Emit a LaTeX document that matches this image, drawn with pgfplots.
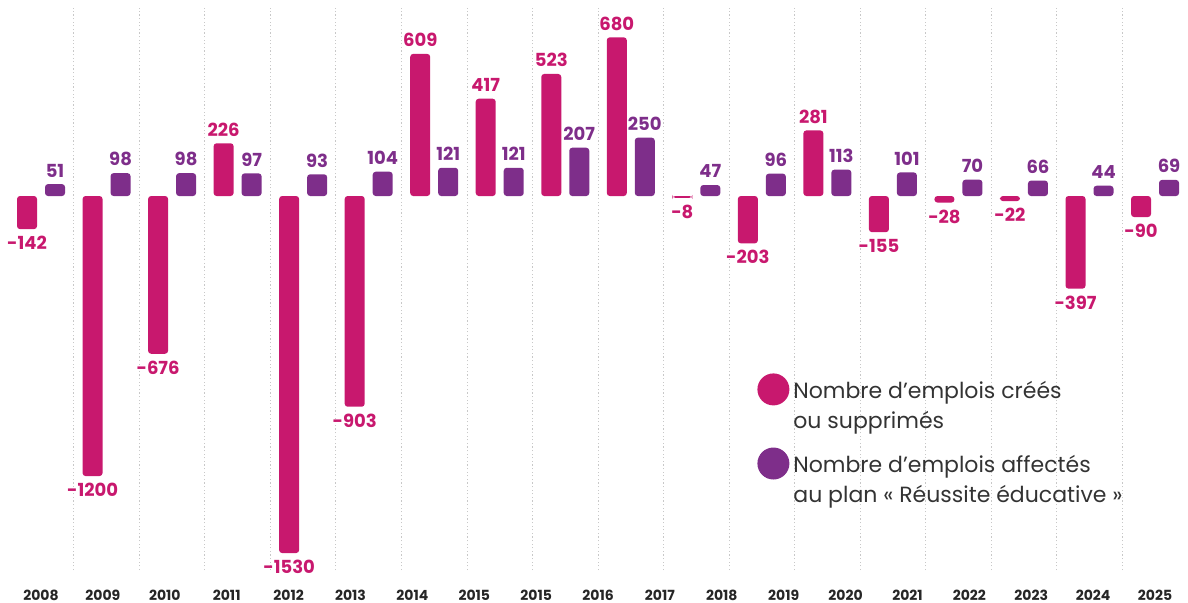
\documentclass[border=0pt]{standalone}
\usepackage{pgfplots}
\pgfplotsset{compat=1.18}
\usepackage{pgfplotstable}
\usepackage{fontspec}
\setmainfont{Poppins}
\definecolor{pinkc}{HTML}{C8186E}
\definecolor{purplec}{HTML}{7E2E8A}
\definecolor{txt}{HTML}{333333}
\definecolor{gridc}{HTML}{C8C8C8}

\pgfplotstableread{
x a b
0 -142 51
1 -1200 98
2 -676 98
3 226 97
4 -1530 93
5 -903 104
6 609 121
7 417 121
8 523 207
9 680 250
10 -8 47
11 -203 96
12 281 113
13 -155 101
14 -28 70
15 -22 66
16 -397 44
17 -90 69
}\data

\begin{document}
\begin{tikzpicture}
\begin{axis}[
  name=ax,
  scale only axis, width=594pt, height=301.5pt,
  xmin=-0.626, xmax=17.503, ymin=-1744, ymax=840,
  ybar=4pt, bar width=10pt,
  axis line style={draw=none}, tick style={draw=none},
  ytick=\empty,
  xtick={0,0.94444,1.88889,2.83333,3.77778,4.72222,5.66667,6.61111,7.55556,8.5,9.44444,10.38889,11.33333,12.27778,13.22222,14.16667,15.11111,16.05556,17},
  xticklabels={2008,2009,2010,2011,2012,2013,2014,2015,2015,2016,2017,2018,2019,2020,2021,2022,2023,2024,2025},
  xticklabel style={anchor=center, yshift=8pt, font=\fontsize{7}{8}\selectfont\bfseries, text=black!85},
  clip=false,
  nodes near coords,
  every node near coord/.append style={font=\fontsize{9}{10}\selectfont\bfseries},
  /pgf/number format/fixed, /pgf/number format/precision=0,
  /pgf/number format/1000 sep={}, /pgf/number format/assume math mode=true,
  legend style={at={(axis description cs:0.6372,0.3814)}, anchor=north west, draw=none, fill=none,
    font=\fontsize{11}{15}\selectfont, text=txt, cells={anchor=west, align=left}, row sep=6pt, inner sep=0pt},
  legend cell align=left,
  legend image code/.code={\fill (0pt,8.5pt) circle (8pt);},
]
\pgfplotsinvokeforeach{0.5,1.5,2.5,3.5,4.5,5.5,6.5,7.5,8.5,9.5,10.5,11.5,12.5,13.5,14.5,15.5,16.5}{
  \draw[gridc, line width=0.45pt, dash pattern=on 0.6pt off 1.2pt] (axis cs:#1,-1603) -- (axis cs:#1,806);
}
\addplot[fill=pinkc, draw=none, rounded corners=1.5pt, every node near coord/.append style={text=pinkc}] table[x=x, y=a] {\data};
\addlegendentry{Nombre d’emplois créés\\ou supprimés}
\addplot[fill=purplec, draw=none, rounded corners=1.5pt, every node near coord/.append style={text=purplec}] table[x=x, y=b] {\data};
\addlegendentry{Nombre d’emplois affectés\\au plan «~Réussite éducative~»}
\end{axis}
\pgfresetboundingbox
\path[use as bounding box] (ax.south west) rectangle (ax.north east);
\end{tikzpicture}
\end{document}
